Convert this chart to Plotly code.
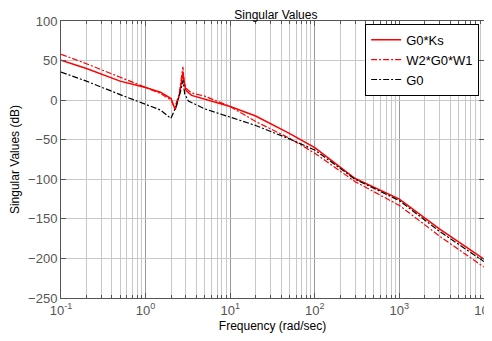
import plotly.graph_objects as go

# Frequencies (rad/sec) and singular values (dB)
freq_gks = [0.1, 0.2, 0.5, 1.0, 1.5, 2.0, 2.24, 2.5, 2.65, 2.76, 2.85, 3.0, 3.5, 5, 10, 20, 50, 100, 300, 1000, 3000, 10000]
sv_gks = [50.5, 40, 24, 16, 10, 2, -12, 6, 22, 36, 22, 12, 6, 1.5, -8, -20, -42, -60, -99, -125, -163, -201]

freq_w = [0.1, 0.2, 0.5, 1.0, 1.5, 2.0, 2.2, 2.5, 2.65, 2.76, 2.85, 3.0, 3.5, 5, 10, 20, 50, 100, 300, 1000, 3000, 10000]
sv_w = [58, 46, 29, 16.5, 8.5, 0, -10, 8, 26, 42, 25, 15, 9, 5, -8, -27, -48, -67, -103, -133, -172, -211]

freq_g0 = [0.1, 0.2, 0.5, 1.0, 1.5, 1.99, 2.3, 2.6, 2.76, 2.9, 3.2, 5, 10, 20, 50, 100, 300, 1000, 3000, 10000]
sv_g0 = [35.5, 24, 7, -5, -12.5, -23, -8, 12, 25, 8, -1, -11, -22, -32, -49, -63, -100, -127, -166, -204]

names = ["G0*Ks", "W2*G0*W1", "G0"]
x_tickvals = [0.1, 1, 10, 100, 1000, 10000]
x_ticktext = ["10<sup>-1</sup>", "10<sup>0</sup>", "10<sup>1</sup>", "10<sup>2</sup>", "10<sup>3</sup>", "10<sup>4</sup>"]
y_tickvals = [100, 50, 0, -50, -100, -150, -200, -250]

fig = go.Figure()
fig.add_trace(go.Scatter(x=freq_gks, y=sv_gks, name=names[0], mode="lines",
                         line=dict(color="#ff0000", width=1.5, dash="solid")))
fig.add_trace(go.Scatter(x=freq_w, y=sv_w, name=names[1], mode="lines",
                         line=dict(color="#ff0000", width=1.2, dash="6px,2px,2px,2px")))
fig.add_trace(go.Scatter(x=freq_g0, y=sv_g0, name=names[2], mode="lines",
                         line=dict(color="#000000", width=1.2, dash="6px,2px,2px,2px")))

font_family = "Liberation Sans, Arial, sans-serif"
fig.update_layout(
    width=484, height=333,
    margin=dict(l=53, r=8, t=13, b=43),
    paper_bgcolor="white", plot_bgcolor="white",
    font=dict(family=font_family, size=12, color="#333333"),
    title=dict(text="Singular Values", x=0.5535, xanchor="center", y=0.993, yanchor="top",
               font=dict(size=12, color="#000000")),
    showlegend=True,
    legend=dict(x=0.719, y=0.99, xanchor="left", yanchor="top",
                bgcolor="white", bordercolor="#000000", borderwidth=1,
                font=dict(size=13, color="#000000"), tracegroupgap=0, itemwidth=30),
    xaxis=dict(type="log", range=[-1, 4.0002], tickvals=x_tickvals, ticktext=x_ticktext,
               ticklabeloverflow="allow", automargin=False,
               showgrid=True, gridcolor="#999999", gridwidth=1,
               minor=dict(showgrid=True, gridcolor="#c8c8c8", gridwidth=1,
                          ticks="inside", ticklen=3, tickcolor="#555555", dtick="D1"),
               ticks="inside", ticklen=5, tickcolor="#555555",
               showline=True, linecolor="#555555", linewidth=1, mirror="ticks",
               zeroline=False,
               tickfont=dict(size=13, color="#555555"),
               title=dict(text="Frequency (rad/sec)", standoff=5, font=dict(size=12, color="#000000"))),
    yaxis=dict(range=[-250, 100], tickvals=y_tickvals, automargin=False,
               showgrid=True, gridcolor="#c8c8c8", gridwidth=1,
               ticks="inside", ticklen=5, tickcolor="#555555",
               showline=True, linecolor="#555555", linewidth=1, mirror="ticks",
               zeroline=False,
               tickfont=dict(size=13, color="#555555"),
               title=dict(text="Singular Values (dB)", standoff=6, font=dict(size=12, color="#000000"))),
)

fig.write_html("out.html", config={"displayModeBar": False})
